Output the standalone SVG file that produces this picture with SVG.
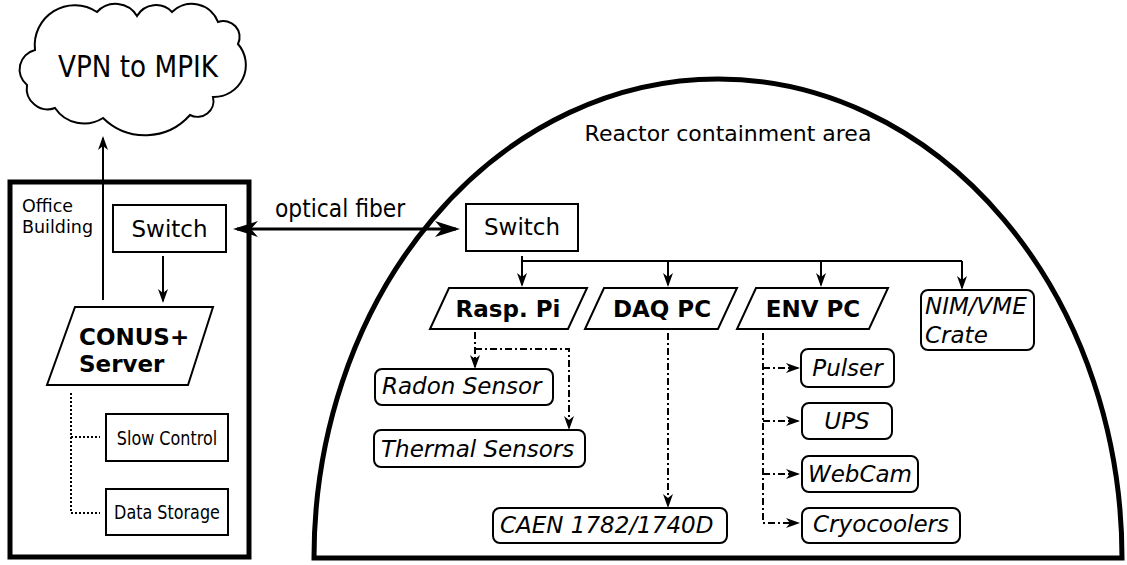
<svg xmlns="http://www.w3.org/2000/svg" width="1127" height="565" viewBox="0 0 1127 565">
<style>
text{font-family:"DejaVu Sans","Noto Sans",sans-serif;fill:#000}
.t23{font-size:23px}
.t22{font-size:22px}
.t17{font-size:17.500px}
.t18{font-size:19.500px}
.b{font-weight:bold;font-size:23px}
.i{font-style:italic;font-size:23px}
.box{fill:#fff;stroke:#000;stroke-width:2}
.rbox{fill:#fff;stroke:#000;stroke-width:2}
.thick{fill:none;stroke:#000;stroke-width:5}
.ln{fill:none;stroke:#000;stroke-width:2}
.dd{fill:none;stroke:#000;stroke-width:2;stroke-dasharray:7,3,2,3}
.dot{fill:none;stroke:#000;stroke-width:2;stroke-dasharray:2,2}
</style>
<defs>
<marker id="a" viewBox="-16 -7 18 14" markerWidth="18" markerHeight="14" refX="-2" refY="0" orient="auto" markerUnits="userSpaceOnUse"><path d="M0,0 L-14,-5 L-10,0 L-14,5 Z" fill="#000"/></marker>
<marker id="big" viewBox="-27 -10 29 20" markerWidth="29" markerHeight="20" refX="-4" refY="0" orient="auto-start-reverse" markerUnits="userSpaceOnUse"><path d="M0,0 L-25,-8 L-18,0 L-25,8 Z" fill="#000"/></marker>
</defs>

<g id="reactor">
<path class="thick" d="M314,558 A404 479 0 0 1 1122,558 Z"/>
<text class="t22" x="728" y="141" text-anchor="middle">Reactor containment area</text>
</g>

<g id="office">
<rect class="thick" x="10" y="182" width="239" height="375"/>
<text class="t17" x="22" y="212">Office</text>
<text class="t17" x="22" y="233">Building</text>
</g>

<g id="cloud">
<path fill="#fff" stroke="#000" stroke-width="2" d="M35,50 A40 40 0 0 1 97,12 A25 25 0 0 1 137,16 A22 22 0 0 1 172,12 A28 28 0 0 1 218,22 A16 16 0 0 1 238,44 A32 32 0 0 1 213,97 A16 16 0 0 1 190,115 A60 60 0 0 1 103,118 A35 35 0 0 1 55,108 A21 21 0 0 1 27,85 A20 20 0 0 1 35,50 Z"/>
<text transform="translate(138,77) scale(0.875,1)" text-anchor="middle" style="font-size:30px">VPN to MPIK</text>
</g>

<g id="connectors">
<line class="ln" x1="103" y1="300" x2="103" y2="138" marker-end="url(#a)"/>
<line class="ln" x1="163" y1="256" x2="163" y2="301" marker-end="url(#a)"/>
<line x1="237" y1="229" x2="456" y2="229" stroke="#000" stroke-width="3" marker-start="url(#big)" marker-end="url(#big)"/>
<polyline class="dot" points="71,393 71,513 100,513"/>
<line class="dot" x1="71" y1="437" x2="100" y2="437"/>
<polyline class="ln" points="522,256 522,261 962,261"/>
<line class="ln" x1="522" y1="256" x2="522" y2="285" marker-end="url(#a)"/>
<line class="ln" x1="668" y1="261" x2="668" y2="285" marker-end="url(#a)"/>
<line class="ln" x1="821" y1="261" x2="821" y2="285" marker-end="url(#a)"/>
<line class="ln" x1="962" y1="261" x2="962" y2="288" marker-end="url(#a)"/>
<line class="dd" x1="475" y1="332" x2="475" y2="367" marker-end="url(#a)"/>
<polyline class="dd" points="475,349 569,349 569,428" marker-end="url(#a)"/>
<line class="dd" x1="668" y1="333" x2="668" y2="506" marker-end="url(#a)"/>
<polyline class="dd" points="763,333 763,523 798,523" marker-end="url(#a)"/>
<line class="dd" x1="763" y1="368" x2="798" y2="368" marker-end="url(#a)"/>
<line class="dd" x1="763" y1="421" x2="798" y2="421" marker-end="url(#a)"/>
<line class="dd" x1="763" y1="474" x2="798" y2="474" marker-end="url(#a)"/>
<text transform="translate(275,217) scale(0.91,1)" style="font-size:24px">optical fiber</text>
</g>

<g id="switch-office">
<rect class="box" x="113" y="205" width="113" height="47"/>
<text class="t23" x="169.500" y="237" text-anchor="middle">Switch</text>
</g>

<g id="conus">
<polygon class="box" points="75,307 213,307 188,385 47,385"/>
<text class="b" x="79" y="345">CONUS+</text>
<text class="b" x="79" y="372">Server</text>
</g>

<g id="slow-control">
<rect class="box" x="106" y="414" width="122" height="47"/>
<text class="t18" transform="translate(167,445) scale(0.82,1)" text-anchor="middle">Slow Control</text>
</g>

<g id="data-storage">
<rect class="box" x="106" y="489" width="122" height="46"/>
<text class="t18" transform="translate(167,519) scale(0.82,1)" text-anchor="middle">Data Storage</text>
</g>

<g id="switch-reactor">
<rect class="box" x="466" y="204" width="112" height="47"/>
<text class="t23" x="522" y="235" text-anchor="middle">Switch</text>
</g>

<g id="rasp-pi">
<polygon class="box" points="449,288 587,288 568,329 430,329"/>
<text class="b" x="508" y="317" text-anchor="middle">Rasp. Pi</text>
</g>

<g id="daq-pc">
<polygon class="box" points="604,288 737,288 718,329 585,329"/>
<text class="b" x="662" y="317" text-anchor="middle">DAQ PC</text>
</g>

<g id="env-pc">
<polygon class="box" points="756,288 888,288 869,329 737,329"/>
<text class="b" x="813" y="317" text-anchor="middle">ENV PC</text>
</g>

<g id="nim-vme">
<rect class="rbox" x="921" y="290" width="113" height="60" rx="7"/>
<text class="i" x="925" y="314">NIM/VME</text>
<text class="i" x="925" y="343">Crate</text>
</g>

<g id="radon">
<rect class="rbox" x="375" y="369" width="178" height="36" rx="7"/>
<text class="i" x="382" y="394">Radon Sensor</text>
</g>

<g id="thermal">
<rect class="rbox" x="374" y="430" width="211" height="37" rx="7"/>
<text class="i" x="381" y="457">Thermal Sensors</text>
</g>

<g id="caen">
<rect class="rbox" x="493" y="508" width="234" height="35" rx="7"/>
<text class="i" x="500" y="533">CAEN 1782/1740D</text>
</g>

<g id="pulser">
<rect class="rbox" x="801" y="349" width="93" height="38" rx="7"/>
<text class="i" x="847.500" y="376" text-anchor="middle">Pulser</text>
</g>

<g id="ups">
<rect class="rbox" x="802" y="403" width="90" height="36" rx="7"/>
<text class="i" x="847" y="429" text-anchor="middle">UPS</text>
</g>

<g id="webcam">
<rect class="rbox" x="802" y="456" width="116" height="36" rx="7"/>
<text class="i" x="860" y="482" text-anchor="middle">WebCam</text>
</g>

<g id="cryocoolers">
<rect class="rbox" x="802" y="508" width="158" height="35" rx="7"/>
<text class="i" x="881" y="532" text-anchor="middle">Cryocoolers</text>
</g>
</svg>
